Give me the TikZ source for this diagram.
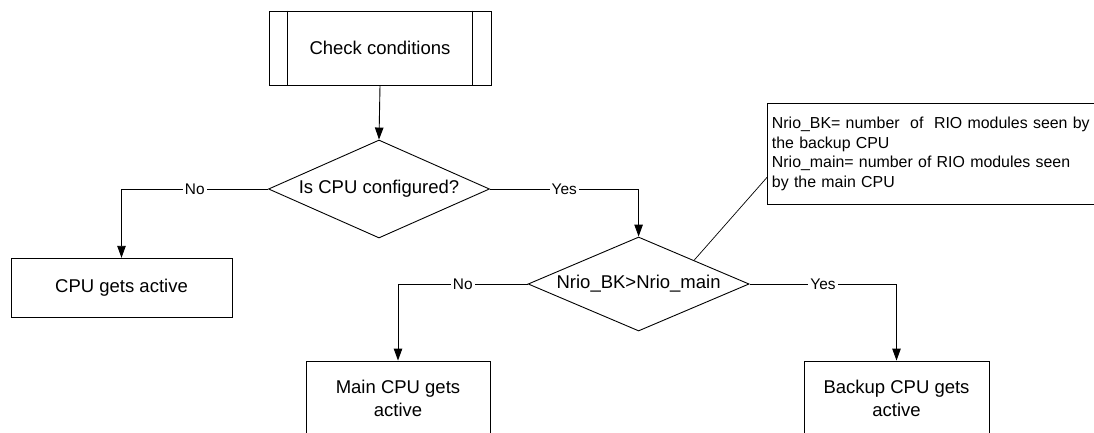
\documentclass[tikz,border=0pt]{standalone}
\usepackage{fontspec}
\setmainfont{Liberation Sans}
\usetikzlibrary{shapes.geometric,arrows.meta,calc}
\tikzset{
  flow/.style={draw=black, line width=0.9pt},
  procbox/.style={flow, rectangle, inner sep=0pt, align=center, font=\fontsize{18.5}{23}\selectfont},
  decision/.style={flow, diamond, inner sep=0pt, align=center, font=\fontsize{18.5}{22}\selectfont},
  arr/.style={flow, -{Triangle[length=12pt,width=8.5pt]}},
  lbl/.style={fill=white, inner sep=2pt, font=\fontsize{15.4}{18}\selectfont},
  notebox/.style={flow, rectangle, inner xsep=4.5pt, inner ysep=0pt, align=left, text width=324pt, font=\fontsize{15.9}{19.5}\selectfont}
}
\begin{document}
\begin{tikzpicture}[x=1pt,y=-1pt]
\useasboundingbox (0,0) rectangle (1094,433);
\clip (0,0) rectangle (1094,433);
% top predefined process
\node[procbox, minimum width=222pt, minimum height=74pt] (check) at (380,48) {Check conditions};
\draw[flow] ([xshift=19pt]check.north west) -- ([xshift=19pt]check.south west);
\draw[flow] ([xshift=-19pt]check.north east) -- ([xshift=-19pt]check.south east);
% decisions
\node[decision, aspect=2.255, minimum width=221pt, minimum height=98pt] (d1) at (379,189) {Is CPU configured?};
\node[decision, aspect=2.351, minimum width=221pt, minimum height=94pt] (d2) at (638.6,284) {Nrio\_BK>Nrio\_main};
% process boxes
\node[procbox, minimum width=221pt, minimum height=59.5pt] (cpu) at (121.5,288) {CPU gets active};
\node[procbox, minimum width=184pt, minimum height=75pt] (main) at (398,398.5) {Main CPU gets\\active};
\node[procbox, minimum width=185pt, minimum height=75pt] (backup) at (896.5,398.5) {Backup CPU gets\\active};
% note
\node[notebox, minimum height=101pt, anchor=north west] (note) at (767,103)
  {Nrio\_BK= number\ \ of\ \ RIO modules seen by\\the backup CPU\\Nrio\_main= number of RIO modules seen\\by the main CPU};
\draw[flow, line width=0.7pt] ($(d2.north)!0.5!(d2.east)$) -- ($(note.north west)!0.73!(note.south west)$);
% connectors
\draw[arr] (check.south) -- (d1.north);
\draw[arr] (d1.west) -| (cpu.north) node[pos=0.25, lbl] {No};
\draw[arr] (d1.east) -| (d2.north) node[pos=0.25, lbl] {Yes};
\draw[arr] (d2.west) -| (main.north) node[pos=0.25, lbl] {No};
\draw[arr] (d2.east) -| (backup.north) node[pos=0.25, lbl] {Yes};
\end{tikzpicture}
\end{document}
